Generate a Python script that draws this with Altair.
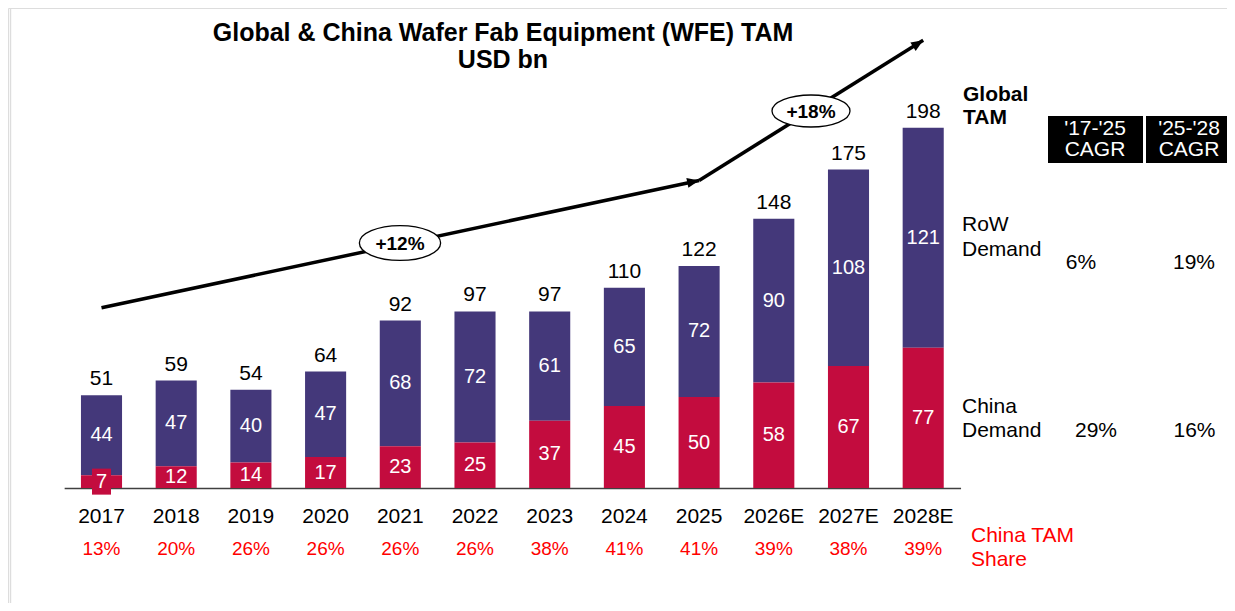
import altair as alt
import pandas as pd

# ---------------- data ----------------
years = ["2017", "2018", "2019", "2020", "2021", "2022", "2023", "2024",
         "2025", "2026E", "2027E", "2028E"]
china = [7, 12, 14, 17, 23, 25, 37, 45, 50, 58, 67, 77]
row = [44, 47, 40, 47, 68, 72, 61, 65, 72, 90, 108, 121]
total = [51, 59, 54, 64, 92, 97, 97, 110, 122, 148, 175, 198]
share = ["13%", "20%", "26%", "26%", "26%", "26%", "38%", "41%", "41%",
         "39%", "38%", "39%"]

trend_years = ["2017", "2025", "2028E"]
trend_values = [99, 169, 246]
cagr_labels = ["+12%", "+18%"]

title_lines = ["Global & China Wafer Fab Equipment (WFE) TAM", "USD bn"]
cagr_headers = [["'17-'25", "CAGR"], ["'25-'28", "CAGR"]]
row_cagr = ["6%", "19%"]
china_cagr = ["29%", "16%"]

# ---------------- style ----------------
FONT = "Liberation Sans"
ROW_C = "#44387A"
CHINA_C = "#C30C3E"
RED = "#FF0000"

df = pd.DataFrame({"year": years, "china": china, "row": row,
                   "total": total, "share": share})
df["china_mid"] = df["china"] / 2
df["row_mid"] = (df["china"] + df["total"]) / 2

xs = alt.Scale(domain=years, range=[56.15, 952.55],
               paddingInner=0.45, paddingOuter=0.225)
ys = alt.Scale(domain=[0, 200], range=[480, 116], nice=False, zero=True)

X = alt.X("year:N", scale=xs,
          axis=alt.Axis(title=None, labels=False, ticks=False, grid=False,
                        offset=-115, domainColor="#404040", domainWidth=1.5))


def Y(field):
    return alt.Y(field, scale=ys, axis=None)


base = alt.Chart(df)

china_bar = base.mark_bar(color=CHINA_C).encode(x=X, y=Y("china:Q"))
row_bar = base.mark_bar(color=ROW_C).encode(
    x=X, y=Y("china:Q"), y2=alt.Y2("total:Q"))

box7 = base.transform_filter(alt.datum.china < 10).mark_point(
    shape="M-0.73,-1L0.73,-1L0.73,1L-0.73,1Z", filled=True,
    color=CHINA_C, opacity=1, size=676
).encode(x=X, y=Y("china_mid:Q"))

total_txt = base.mark_text(font=FONT, fontSize=21, baseline="middle",
                           dy=-16, color="black").encode(
    x=X, y=Y("total:Q"), text="total:Q")
row_txt = base.mark_text(font=FONT, fontSize=20, baseline="middle",
                         color="white").encode(
    x=X, y=Y("row_mid:Q"), text="row:Q")
china_txt = base.mark_text(font=FONT, fontSize=20, baseline="middle",
                           color="white").encode(
    x=X, y=Y("china_mid:Q"), text="china:Q")
year_txt = base.mark_text(font=FONT, fontSize=21, baseline="middle",
                          color="black").encode(
    x=X, y=alt.value(509), text="year:N")
share_txt = base.mark_text(font=FONT, fontSize=19, baseline="middle",
                           color=RED).encode(
    x=X, y=alt.value(541), text="share:N")

# trend arrows
trend_df = pd.DataFrame({
    "seg": ["a", "a", "b", "b"],
    "year": [trend_years[0], trend_years[1], trend_years[1], trend_years[2]],
    "v": [trend_values[0], trend_values[1], trend_values[1], trend_values[2]],
})
trend_line = alt.Chart(trend_df).mark_line(
    color="black", strokeWidth=3.5).encode(
    x=X, y=Y("v:Q"), detail="seg:N")

head_df = pd.DataFrame({"year": trend_years[1:], "v": trend_values[1:],
                        "ang": [348, 328]})
heads = alt.Chart(head_df).mark_point(
    shape="M0,0L-2.4,-1L-2.4,1Z", filled=True, color="black",
    opacity=1, size=100
).encode(x=X, y=Y("v:Q"), angle=alt.Angle("ang:Q", scale=None))


def one(d=None):
    return alt.Chart(pd.DataFrame({"t": [d if d is not None else ""]}))


def ellipse(label, px, py, size, ratio):
    path = f"M-1,0A1,{ratio} 0 1,1 1,0A1,{ratio} 0 1,1 -1,0Z"
    e = one().mark_point(shape=path, filled=True, fill="white",
                         stroke="black", strokeWidth=1.3, opacity=1,
                         size=size).encode(x=alt.value(px), y=alt.value(py))
    t = one(label).mark_text(font=FONT, fontSize=19, fontWeight="bold",
                             baseline="middle", color="black").encode(
        x=alt.value(px), y=alt.value(py + 1), text="t:N")
    return [e, t]


def label(lines, px, py, size=21, color="black", weight="normal",
          align="left", lh=24):
    # py = centre of the first line
    return one().mark_text(text=lines, font=FONT, fontSize=size,
                           fontWeight=weight, color=color, align=align,
                           baseline="middle", lineHeight=lh).encode(
        x=alt.value(px), y=alt.value(py))


def box(x0, x1, y0, y1, color="black"):
    return one().mark_rect(color=color).encode(
        x=alt.value(x0), x2=alt.value(x1), y=alt.value(y0), y2=alt.value(y1))


left_edge = box(1.8, 3.2, 0, 603, color="#DDDDDD")

layers = [left_edge, row_bar, china_bar, box7, total_txt, row_txt, china_txt,
          year_txt, share_txt, trend_line, heads]
layers += ellipse(cagr_labels[0], 392, 235, 6600, 0.43)
layers += ellipse(cagr_labels[1], 803, 103, 6084, 0.41)
layers += [
    label(title_lines, 495, 25, size=25, weight="bold", align="center", lh=27),
    label(["Global", "TAM"], 955, 87, size=21, weight="bold", lh=23),
    box(1040, 1135, 108, 155),
    box(1138, 1219, 108, 155),
    label(cagr_headers[0], 1087, 121, size=21, color="white",
          align="center", lh=21),
    label(cagr_headers[1], 1181, 121, size=21, color="white",
          align="center", lh=21),
    label(["RoW", "Demand"], 954, 217, lh=25),
    label(["China", "Demand"], 954, 399, lh=24),
    label(["China TAM", "Share"], 963, 528, color=RED, lh=24),
    label(row_cagr[0], 1073, 255, align="center"),
    label(row_cagr[1], 1186, 255, align="center"),
    label(china_cagr[0], 1088, 423, align="center"),
    label(china_cagr[1], 1186.5, 423, align="center"),
]

chart = alt.layer(*layers).properties(
    width=1219, height=595, padding=0, autosize="none", background="white"
).configure_view(strokeWidth=0, strokeOpacity=0).configure(font=FONT)

chart.save("out.html", embed_options={"renderer": "svg", "actions": False})
